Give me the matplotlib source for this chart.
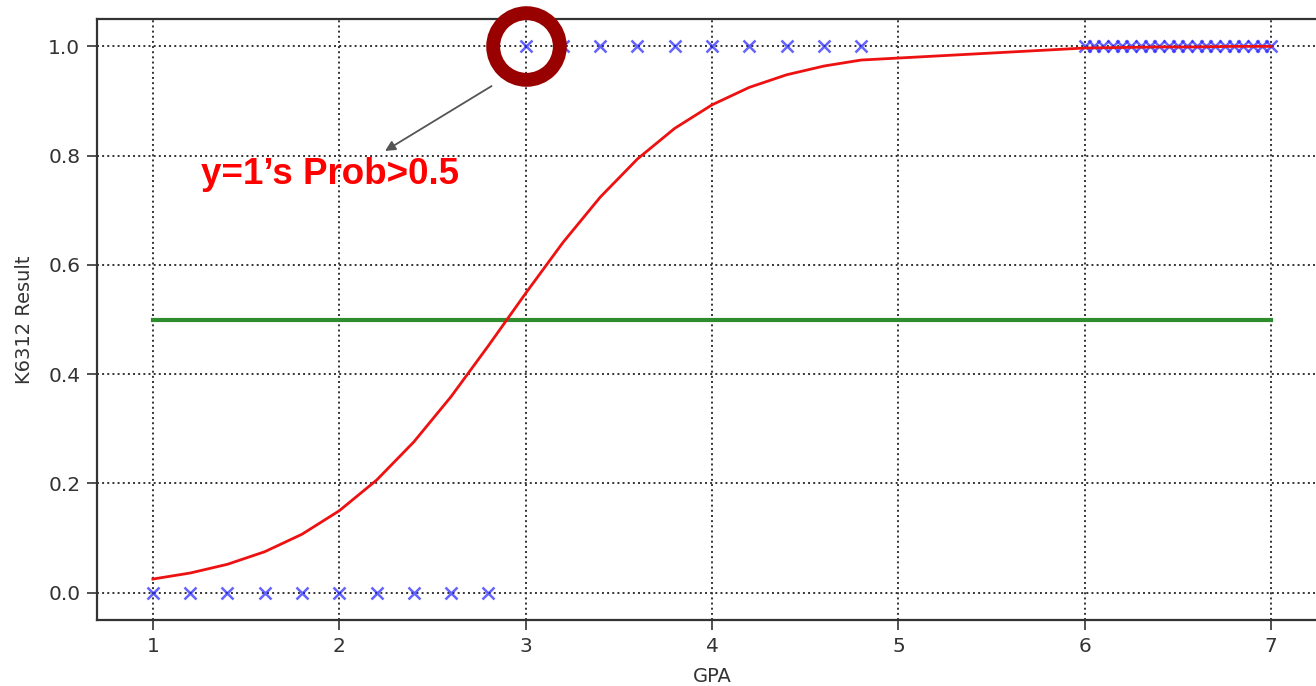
import matplotlib
matplotlib.use("Agg")
import matplotlib.pyplot as plt

# data
gpa_fail = [1.0, 1.2, 1.4, 1.6, 1.8, 2.0, 2.2, 2.4, 2.6, 2.8]
gpa_pass = [3.0, 3.2, 3.4, 3.6, 3.8, 4.0, 4.2, 4.4, 4.6, 4.8,
            6.0, 6.05, 6.1, 6.15, 6.2, 6.25, 6.3, 6.35, 6.4, 6.45, 6.5,
            6.55, 6.6, 6.65, 6.7, 6.75, 6.8, 6.85, 6.9, 6.95, 7.0]
y_fail = [0] * len(gpa_fail)
y_pass = [1] * len(gpa_pass)

curve_x = [1.0, 1.2, 1.4, 1.6, 1.8, 2.0, 2.2, 2.4, 2.6, 2.8,
           3.0, 3.2, 3.4, 3.6, 3.8, 4.0, 4.2, 4.4, 4.6, 4.8,
           6.0, 6.2, 6.4, 6.6, 6.8, 7.0]
curve_y = [0.025, 0.036, 0.052, 0.075, 0.107, 0.150, 0.206, 0.276, 0.359, 0.452,
           0.548, 0.641, 0.724, 0.794, 0.850, 0.893, 0.925, 0.948, 0.964, 0.975,
           0.997, 0.998, 0.999, 0.999, 1.0, 1.0]

thresh_x = [1, 7]
thresh_y = [0.5, 0.5]

fig = plt.figure(figsize=(13.16, 6.86), dpi=100)
ax = fig.add_axes([0.0737, 0.0962, 0.9347, 0.876])

ax.plot(gpa_fail + gpa_pass, y_fail + y_pass, 'x', color='#2222ff', alpha=0.7,
        markersize=9, markeredgewidth=1.8, zorder=3)
ax.plot(curve_x, curve_y, color='#ee1111', lw=2, zorder=4)
ax.plot(thresh_x, thresh_y, color='#2e8b2e', lw=3, zorder=2)

ax.set_xlim(0.7, 7.3)
ax.set_ylim(-0.05, 1.05)
ax.set_xticks([1, 2, 3, 4, 5, 6, 7])
ax.set_yticks([0.0, 0.2, 0.4, 0.6, 0.8, 1.0])
ax.grid(True, linestyle=':', color='#333333', lw=1.4)
ax.tick_params(labelsize=14.5, colors='#333333', length=7, width=1.2, pad=5)
for s in ax.spines.values():
    s.set_color('#333333')
    s.set_linewidth(1.6)

ax.set_xlabel("GPA", fontsize=14, color='#333333', labelpad=8)
ax.set_ylabel("K6312 Result", fontsize=14, color='#333333', labelpad=10)

# highlight ring and note
ax.plot([3.0], [1.0], 'o', markerfacecolor='none', markeredgecolor='#990000',
        markersize=48, markeredgewidth=10, zorder=5, clip_on=False)
ax.annotate("", xy=(2.233, 0.806), xytext=(2.83, 0.93),
            arrowprops=dict(arrowstyle='-|>', color='#555555', lw=1.3,
                            mutation_scale=15))
ax.text(1.257, 0.749, "y=1\u2019s Prob>0.5", color='#ff0000', fontsize=26.5,
        fontweight='bold', family='Liberation Sans', va='baseline')

fig.savefig("out.png", dpi=100)
